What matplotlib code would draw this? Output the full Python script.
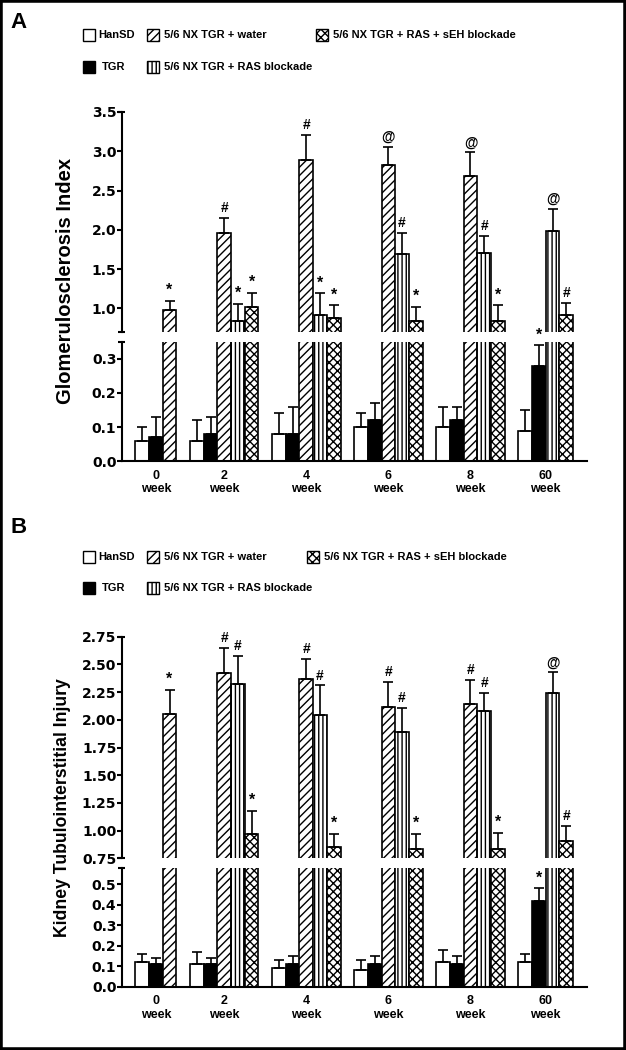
import numpy as np
import matplotlib.pyplot as plt
from matplotlib.patches import Rectangle

plt.rcParams['hatch.linewidth'] = 1.0

W, H = 626, 1050
nan = np.nan

weeks = ['0', '2', '4', '6', '8', '60']
names = ['HanSD', 'TGR', '5/6 NX TGR + water', '5/6 NX TGR + RAS blockade',
         '5/6 NX TGR + RAS + sEH blockade']

# panel A - glomerulosclerosis index
a_hansd = [0.06, 0.06, 0.08, 0.10, 0.10, 0.09]
a_hansd_err = [0.04, 0.06, 0.06, 0.04, 0.06, 0.06]
a_tgr = [0.07, 0.08, 0.08, 0.12, 0.12, 0.28]
a_tgr_err = [0.06, 0.05, 0.08, 0.05, 0.04, 0.06]
a_water = [0.98, 1.96, 2.89, 2.82, 2.69, nan]
a_water_err = [0.12, 0.19, 0.32, 0.24, 0.30, nan]
a_ras = [nan, 0.84, 0.915, 1.69, 1.70, 1.99]
a_ras_err = [nan, 0.22, 0.28, 0.27, 0.22, 0.28]
a_seh = [nan, 1.02, 0.88, 0.84, 0.84, 0.91]
a_seh_err = [nan, 0.18, 0.16, 0.18, 0.20, 0.16]
a_marks = [['', '', '', '', '', ''],
           ['', '', '', '', '', '*'],
           ['*', '#', '#', '@', '@', ''],
           ['', '*', '*', '#', '#', '@'],
           ['', '*', '*', '*', '*', '#']]

# panel B - tubulointerstitial injury
b_hansd = [0.12, 0.11, 0.09, 0.08, 0.12, 0.12]
b_hansd_err = [0.04, 0.06, 0.04, 0.05, 0.06, 0.04]
b_tgr = [0.11, 0.11, 0.11, 0.11, 0.11, 0.42]
b_tgr_err = [0.03, 0.03, 0.04, 0.04, 0.04, 0.06]
b_water = [2.05, 2.42, 2.37, 2.12, 2.14, nan]
b_water_err = [0.22, 0.23, 0.18, 0.22, 0.22, nan]
b_ras = [nan, 2.32, 2.04, 1.89, 2.08, 2.24]
b_ras_err = [nan, 0.26, 0.27, 0.22, 0.16, 0.19]
b_seh = [nan, 0.97, 0.85, 0.83, 0.83, 0.91]
b_seh_err = [nan, 0.21, 0.12, 0.14, 0.15, 0.13]
b_marks = [['', '', '', '', '', ''],
           ['', '', '', '', '', '*'],
           ['*', '#', '#', '#', '#', ''],
           ['', '#', '#', '#', '#', '@'],
           ['', '*', '*', '*', '*', '#']]

styles = [('white', ''), ('black', ''), ('white', '////'), ('white', '||||'), ('white', 'xxxx')]

ARIAL = 'Liberation Sans'
DEJAVU = 'DejaVu Sans'

fig = plt.figure(figsize=(W / 100, H / 100), dpi=100)


def add_ax(left, top, right, bottom):
    return fig.add_axes([left / W, 1 - bottom / H, (right - left) / W, (bottom - top) / H])


def slots(series):
    pos = [np.full(len(weeks), nan) for _ in series]
    centers = []
    s = 0
    for g in range(len(weeks)):
        start = s
        for k, ser in enumerate(series):
            if not np.isnan(ser[g]):
                pos[k][g] = s + 0.5
                s += 1
        centers.append((start + s) / 2)
        s += 1
    return pos, centers, s


def break_marks(ax, where):
    y = 0 if where == 'bottom' else 1
    ax.plot([-0.008, 0.008], [y, y], transform=ax.transAxes, color='black',
            lw=1.5, clip_on=False, solid_capstyle='butt')


def panel(boxes, ylims, yticks, yfmt, series, errs, marks, ylabel, ylab_xy, ylab_size):
    upper = add_ax(*boxes[0])
    lower = add_ax(*boxes[1])
    pos, centers, nslots = slots(series)
    for ax, lim in ((upper, ylims[0]), (lower, ylims[1])):
        for k in range(len(series)):
            fc, hatch = styles[k]
            vals = np.array(series[k], dtype=float)
            err = np.array(errs[k], dtype=float)
            ok = ~np.isnan(vals)
            ax.bar(pos[k][ok], vals[ok], width=1, facecolor=fc, edgecolor='black',
                   hatch=hatch, linewidth=1.2, zorder=2)
            ax.errorbar(pos[k][ok], vals[ok], yerr=[np.zeros(ok.sum()), err[ok]],
                        fmt='none', ecolor='black', elinewidth=1.2, capsize=3.5,
                        capthick=1.2, zorder=3)
            for x, v, e, m in zip(pos[k], vals, err, marks[k]):
                if not m or np.isnan(v):
                    continue
                top = v + e
                if lim[0] <= top <= lim[1] or (ax is upper and top > lim[1]):
                    size = 11.5 if m == '*' else 10
                    ax.annotate(m, (x, top), xytext=(0, 2), textcoords='offset points',
                                ha='center', va='bottom', fontsize=size,
                                fontweight='bold', family=ARIAL, annotation_clip=False)
        ax.set_xlim(-1, nslots)
        ax.set_ylim(*lim)
        ax.spines['top'].set_visible(False)
        ax.spines['right'].set_visible(False)
        for sp in ax.spines.values():
            sp.set_linewidth(1.5)
        ax.tick_params(axis='y', direction='out', length=3.3, width=1.5, pad=0.5,
                       labelsize=10)
    upper.spines['bottom'].set_visible(False)
    upper.set_xticks([])
    upper.set_yticks(yticks[0])
    upper.set_yticklabels([yfmt[0] % t for t in yticks[0]], fontweight='bold',
                          family=DEJAVU, fontsize=10)
    lower.set_yticks(yticks[1])
    lower.set_yticklabels([yfmt[1] % t for t in yticks[1]], fontweight='bold',
                          family=DEJAVU, fontsize=10)
    lower.set_xticks(centers)
    lower.set_xticklabels([w + '\nweek' for w in weeks], fontweight='bold',
                          family=ARIAL, fontsize=9, linespacing=1.2)
    lower.tick_params(axis='x', length=0, pad=6)
    break_marks(upper, 'bottom')
    break_marks(upper, 'top')
    break_marks(lower, 'top')
    fig.text(ylab_xy[0] / W, 1 - ylab_xy[1] / H, ylabel, rotation=90, ha='center',
             va='center', fontsize=ylab_size, fontweight='bold', family=ARIAL)


def legend(row1_y, row2_y, col3_x):
    sw = 12
    entries = [(0, 83, row1_y), (1, 83, row2_y), (2, 147, row1_y), (3, 147, row2_y),
               (4, col3_x, row1_y)]
    text_dx = [15, 19, 17.5, 17.5, 17]
    for k, x, y in entries:
        fc, hatch = styles[k]
        fig.add_artist(Rectangle((x / W, 1 - (y + sw / 2) / H), sw / W, sw / H,
                                 transform=fig.transFigure, facecolor=fc,
                                 edgecolor='black', hatch=hatch, linewidth=1.0))
        fig.text((x + text_dx[k]) / W, 1 - y / H, names[k], ha='left', va='center',
                 fontsize=8.0, fontweight='bold', family=ARIAL)


panel([(121.7, 112, 586.7, 332), (121.7, 341.7, 586.7, 461.3)],
      [(0.7, 3.5), (0, 0.35)],
      [[1.0, 1.5, 2.0, 2.5, 3.0, 3.5], [0.0, 0.1, 0.2, 0.3]], ['%.1f', '%.1f'],
      [a_hansd, a_tgr, a_water, a_ras, a_seh],
      [a_hansd_err, a_tgr_err, a_water_err, a_ras_err, a_seh_err],
      a_marks, 'Glomerulosclerosis Index', (65.5, 281), 14.5)

panel([(121.7, 636.7, 586.7, 858.3), (121.7, 867.7, 586.7, 986.7)],
      [(0.75, 2.75), (0, 0.58)],
      [[0.75, 1.0, 1.25, 1.5, 1.75, 2.0, 2.25, 2.5, 2.75], [0.0, 0.1, 0.2, 0.3, 0.4, 0.5]],
      ['%.2f', '%.1f'],
      [b_hansd, b_tgr, b_water, b_ras, b_seh],
      [b_hansd_err, b_tgr_err, b_water_err, b_ras_err, b_seh_err],
      b_marks, 'Kidney Tubulointerstitial Injury', (62.5, 807.5), 12.7)

legend(35, 66.7, 316)
legend(556.7, 588.3, 306.7)

fig.text(10 / W, 1 - 28 / H, 'A', fontsize=16, fontweight='bold', family=ARIAL, va='baseline')
fig.text(10 / W, 1 - 533 / H, 'B', fontsize=16, fontweight='bold', family=ARIAL, va='baseline')

fig.add_artist(Rectangle((0, 0), 1, 1, transform=fig.transFigure, fill=False,
                         edgecolor='black', linewidth=4))

fig.savefig('out.png', dpi=100)
